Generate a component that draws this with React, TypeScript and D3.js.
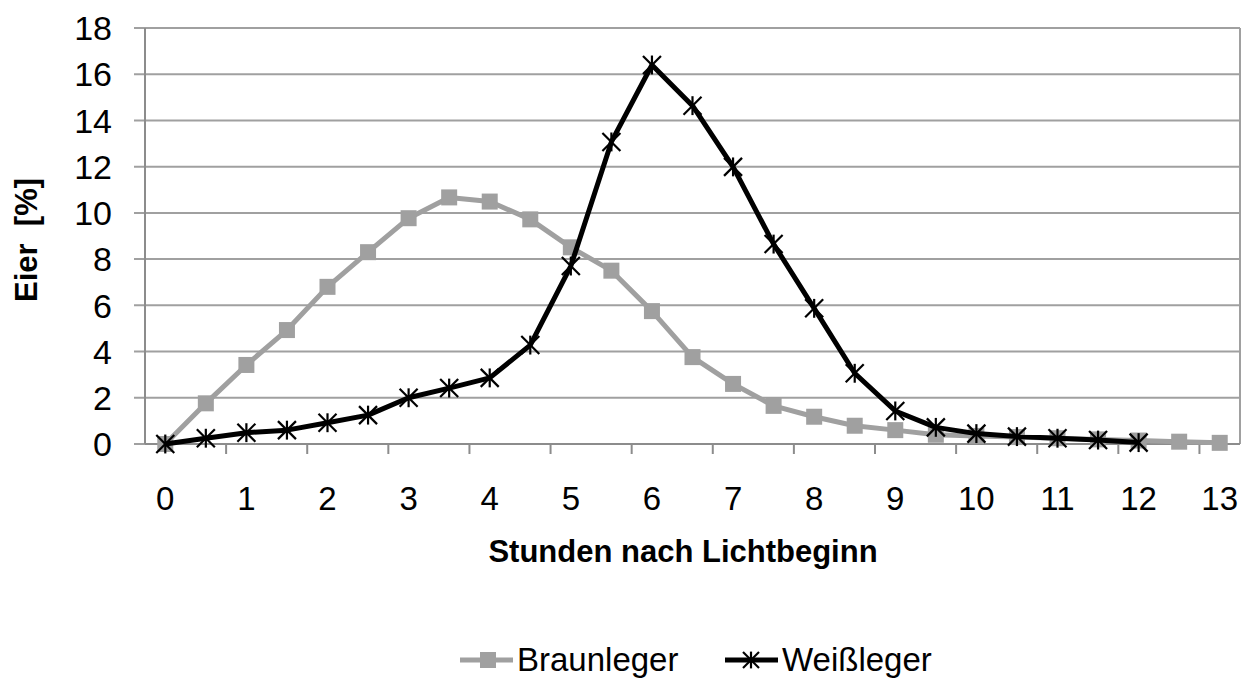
import React from "react";
import * as d3 from "d3";

const hours = ["0","0.5","1","1.5","2","2.5","3","3.5","4","4.5","5","5.5","6","6.5","7","7.5","8","8.5","9","9.5","10","10.5","11","11.5","12","12.5","13"];
const braunleger = [0,1.76,3.42,4.93,6.8,8.3,9.77,10.67,10.49,9.72,8.51,7.5,5.75,3.76,2.6,1.65,1.18,0.79,0.6,0.4,0.35,0.3,0.25,0.2,0.15,0.1,0.05];
const weissleger = [0,0.25,0.49,0.6,0.92,1.25,2.0,2.42,2.86,4.28,7.7,13.07,16.4,14.64,11.99,8.65,5.87,3.06,1.43,0.72,0.45,0.32,0.25,0.17,0.06];
const yTicks = [0,2,4,6,8,10,12,14,16,18];
const xLabels = ["0","1","2","3","4","5","6","7","8","9","10","11","12","13"];

const W = 1249, H = 679;
const left = 145, right = 1240, top = 28, bottom = 444;
const GREY = "#a0a0a0";
const FONT = "'Liberation Sans', Arial, sans-serif";

function Star({ cx, cy, s, sw }: { cx: number; cy: number; s: number; sw: number }) {
  const h = s / 2;
  return (
    <g stroke="#000" strokeWidth={sw} fill="none">
      <line x1={cx - h} y1={cy - h} x2={cx + h} y2={cy + h} />
      <line x1={cx - h} y1={cy + h} x2={cx + h} y2={cy - h} />
      <line x1={cx} y1={cy - h * 1.05} x2={cx} y2={cy + h * 1.05} />
    </g>
  );
}

export default function App() {
  const x = d3.scaleBand<string>().domain(hours).range([left, right]).padding(0);
  const y = d3.scaleLinear().domain([0, 18]).range([bottom, top]);
  const cx = (h: string) => (x(h) as number) + x.bandwidth() / 2;

  const line = d3.line<number>().x((_, i) => cx(hours[i])).y((d) => y(d));

  const tickIdx = hours.map((_, i) => i).filter((i) => i > 0 && i % 2 === 0);

  return (
    <svg width={W} height={H} style={{ position: "absolute", left: 0, top: 0, background: "#fff" }} fontFamily={FONT}>
      {yTicks.map((t) => (
        <line key={"g" + t} x1={left - 11} x2={right} y1={y(t)} y2={y(t)} stroke={GREY} strokeWidth={2} />
      ))}
      <line x1={right} x2={right} y1={top} y2={bottom} stroke={GREY} strokeWidth={2} />
      <line x1={left} x2={left} y1={top} y2={bottom} stroke="#8c8c8c" strokeWidth={2} />
      <line x1={left} x2={right} y1={bottom} y2={bottom} stroke="#8c8c8c" strokeWidth={2} />
      {tickIdx.map((i) => (
        <line key={"t" + i} x1={x(hours[i])} x2={x(hours[i])} y1={bottom} y2={bottom + 10} stroke="#8c8c8c" strokeWidth={2} />
      ))}
      {yTicks.map((t) => (
        <text key={"yl" + t} x={112} y={y(t)} dy="0.36em" textAnchor="end" fontSize={34} fill="#000">
          {t}
        </text>
      ))}
      {xLabels.map((l, k) => (
        <text key={"xl" + l} x={cx(hours[k * 2])} y={510} textAnchor="middle" fontSize={33} fill="#000">
          {l}
        </text>
      ))}
      <text x={683} y={562} textAnchor="middle" fontSize={31} fontWeight="bold" fill="#000">
        Stunden nach Lichtbeginn
      </text>
      <text transform={`translate(37,${(top + bottom) / 2 + 4}) rotate(-90)`} textAnchor="middle" fontSize={31} fontWeight="bold" fill="#000" style={{ whiteSpace: "pre" }}>
        {"Eier  [%]"}
      </text>
      <path d={line(braunleger) as string} fill="none" stroke={GREY} strokeWidth={5} strokeLinejoin="round" />
      {braunleger.map((v, i) => (
        <rect key={"b" + i} x={cx(hours[i]) - 8} y={y(v) - 8} width={16} height={16} fill={GREY} />
      ))}
      <path d={line(weissleger) as string} fill="none" stroke="#000" strokeWidth={5} strokeLinejoin="round" />
      {weissleger.map((v, i) => (
        <Star key={"w" + i} cx={cx(hours[i])} cy={y(v)} s={18} sw={2.2} />
      ))}
      <line x1={460} x2={513} y1={660} y2={660} stroke={GREY} strokeWidth={5} />
      <rect x={480} y={652} width={16} height={16} fill={GREY} />
      <text x={517} y={671} fontSize={33} fill="#000">Braunleger</text>
      <line x1={725} x2={778} y1={660} y2={660} stroke="#000" strokeWidth={5} />
      <Star cx={751} cy={660} s={16} sw={2.2} />
      <text x={782} y={671} fontSize={33} fill="#000">Weißleger</text>
    </svg>
  );
}
